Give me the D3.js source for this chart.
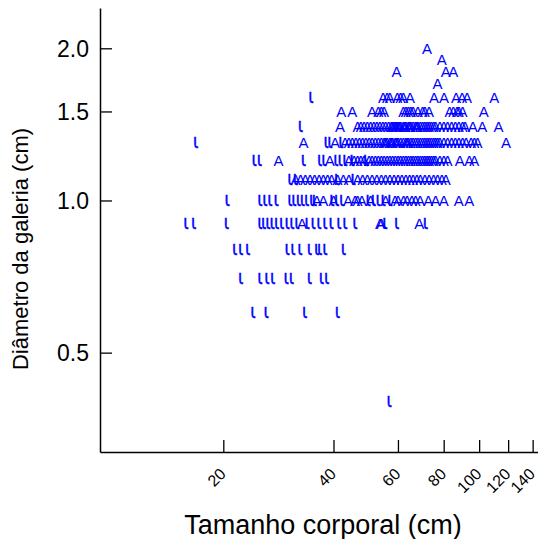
<!DOCTYPE html>
<html>
<head>
<meta charset="utf-8">
<script src="https://cdn.jsdelivr.net/npm/d3@7"></script>
<style>
  html, body { margin: 0; padding: 0; background: #fff; }
  svg { display: block; }
</style>
</head>
<body>
<svg id="chart" width="538" height="539"></svg>
<script>
// ---- data ----
const diameters = [2.0, 1.9, 1.8, 1.7, 1.6, 1.5, 1.4, 1.3, 1.2, 1.1, 1.0, 0.9, 0.8, 0.7, 0.6, 0.4];

// body sizes (cm) of adults ("A") at each gallery diameter above
const adultSizes = [
  [72],
  [79],
  [59.5, 81, 85],
  [77],
  [54.6, 56, 57, 59.7, 61, 62, 64.7, 75.3, 80.2, 86.5, 89.8, 92.7, 110],
  [42, 45, 51, 53, 54, 55, 62, 63, 64, 65, 66, 68, 70, 71, 73, 83, 85, 87, 88, 90, 103],
  [41.7, 46.5, 47.5, 48.5, 49.5, 50.5, 51.5, 52.5, 53.5, 54.5, 55.5, 56.5, 57.5, 58, 58.5, 59, 59.5, 60, 60.5, 61, 62, 62.5, 63, 64, 64.5, 65, 66, 67, 67.5, 68, 69, 70, 71, 72, 73, 74, 75, 76, 78, 80, 82, 84, 86, 88, 90, 91.5, 96, 102, 113],
  [33.1, 40.4, 43, 44, 45, 46, 47, 48, 49, 50, 51, 52, 53, 54, 55, 55.5, 56, 57, 57.5, 58, 59, 59.5, 60, 61, 62, 63, 63.5, 64, 65, 66, 67, 68, 69, 70, 71, 72, 73, 74, 75, 76, 77, 78, 80, 82, 84, 86, 88, 90, 92, 95, 97, 99, 118.4],
  [28.3, 39.1, 44, 45.5, 46.5, 47.5, 48.5, 50, 51, 52, 53, 54, 55, 56, 57, 58, 59, 60, 61, 62, 63, 64, 65, 66, 67, 68, 69, 70, 71, 72, 73, 74, 75, 76, 78, 80, 82, 88.5, 94, 97],
  [31.5, 32.5, 33.5, 34.5, 35.5, 36.5, 37.5, 38.5, 39.5, 41, 42.5, 44, 46.5, 48, 49.5, 51, 52.5, 54, 55.5, 57, 58.5, 60, 61.5, 63, 64.5, 66, 67.5, 69, 71, 73, 75, 77, 79, 81],
  [36, 37.5, 40, 43.8, 45.8, 46.5, 47.8, 50.5, 55.5, 58.9, 60, 62.1, 63.5, 65.4, 67, 68.9, 72.6, 76, 80, 88, 94],
  [32.8, 53.6, 54, 68.6],
  [],
  [],
  [],
  []
];

// body sizes (cm) of juveniles ("ι") at each gallery diameter above
const juvenileSizes = [
  [],
  [],
  [],
  [],
  [34.7],
  [],
  [32.5],
  [16.8, 38.2, 39.1, 41.9],
  [24.3, 25.1, 33.1, 36.7, 37.7, 40.6, 41.7, 43, 45, 49],
  [30.4, 31.5, 40.8, 45.3],
  [20.5, 25.2, 26, 26.8, 27.9, 30.4, 31.2, 32.1, 32.9, 33.8, 34.9, 35.5, 39.6, 40.8, 42.1, 49.8, 51.4, 53, 54.7, 57.1],
  [15.8, 16.6, 20.4, 25.2, 25.8, 26.5, 27.2, 28, 28.9, 29.9, 30.8, 31.8, 33.9, 35.2, 36.5, 37.9, 39.4, 41.4, 43, 45.8, 55.3, 59.5, 71.3],
  [21.5, 22.3, 23.3, 29.9, 31, 32.4, 34.4, 36, 36.7, 37.9, 42.6],
  [22.3, 25.2, 26.3, 27.3, 29.7, 30.7, 34.4, 37.1, 38.3],
  [24.1, 26.2, 33.4, 41],
  [56.8]
];

const xTicks = [20, 40, 60, 80, 100, 120, 140];
const yTicks = [0.5, 1.0, 1.5, 2.0];
const xTitle = "Tamanho corporal (cm)";
const yTitle = "Diâmetro da galeria (cm)";
const adultLabel = "A";
const juvenileLabel = "ι";

// ---- drawing ----
const FONT = "'Liberation Sans', Arial, Helvetica, sans-serif";
const IOTA_FONT = "'DejaVu Sans', sans-serif";
const svg = d3.select("#chart");

const x = d3.scaleLog().domain([9.208, 144.8]).range([100, 538]);
const y = d3.scaleLog().domain([0.318, 2.403]).range([452, 8]);

const points = [];
diameters.forEach((d, i) => {
  adultSizes[i].forEach(s => points.push({size: s, diam: d, label: adultLabel}));
  juvenileSizes[i].forEach(s => points.push({size: s, diam: d, label: juvenileLabel}));
});

// markers (text labels)
svg.append("g")
  .selectAll("text")
  .data(points)
  .join("text")
  .attr("transform", p => p.label === adultLabel
      ? `translate(${x(p.size)},${y(p.diam) + 5.5})`
      : `translate(${x(p.size)},${y(p.diam) + 5.5}) scale(1,1.22)`)
  .attr("text-anchor", "middle")
  .attr("font-family", p => p.label === adultLabel ? FONT : IOTA_FONT)
  .attr("font-size", p => p.label === adultLabel ? 15 : 16)
  .attr("fill", "#0000ff")
  .attr("stroke", p => p.label === adultLabel ? "none" : "#0000ff")
  .attr("stroke-width", 0.35)
  .text(p => p.label);

// x axis
const gx = svg.append("g")
  .attr("transform", "translate(0,452)")
  .call(d3.axisBottom(x).tickValues(xTicks).tickSizeInner(-12).tickSizeOuter(0).tickFormat(d3.format("d")));
gx.select(".domain").attr("stroke", "#000").attr("stroke-width", 1.5);
gx.selectAll(".tick line").attr("stroke", "#000").attr("stroke-width", 1.3);
gx.selectAll(".tick text")
  .attr("x", 0).attr("y", 0).attr("dy", 0)
  .attr("transform", "translate(3,23) rotate(-45)")
  .attr("text-anchor", "end")
  .attr("font-family", FONT)
  .attr("font-size", 16)
  .attr("fill", "#000");

// y axis
const gy = svg.append("g")
  .attr("transform", "translate(100,0)")
  .call(d3.axisLeft(y).tickValues(yTicks).tickSizeInner(-12).tickSizeOuter(0).tickFormat(d3.format(".1f")));
gy.select(".domain").attr("stroke", "#000").attr("stroke-width", 1.5);
gy.selectAll(".tick line").attr("stroke", "#000").attr("stroke-width", 1.3);
gy.selectAll(".tick text")
  .attr("x", -11).attr("dy", "0.36em")
  .attr("text-anchor", "end")
  .attr("font-family", FONT)
  .attr("font-size", 23)
  .attr("fill", "#000");

// axis titles
svg.append("text")
  .attr("x", 323).attr("y", 534)
  .attr("text-anchor", "middle")
  .attr("font-family", FONT)
  .attr("font-size", 27)
  .attr("fill", "#000")
  .text(xTitle);

svg.append("text")
  .attr("transform", "translate(28,249) rotate(-90)")
  .attr("text-anchor", "middle")
  .attr("font-family", FONT)
  .attr("font-size", 22)
  .attr("fill", "#000")
  .text(yTitle);
</script>
</body>
</html>
